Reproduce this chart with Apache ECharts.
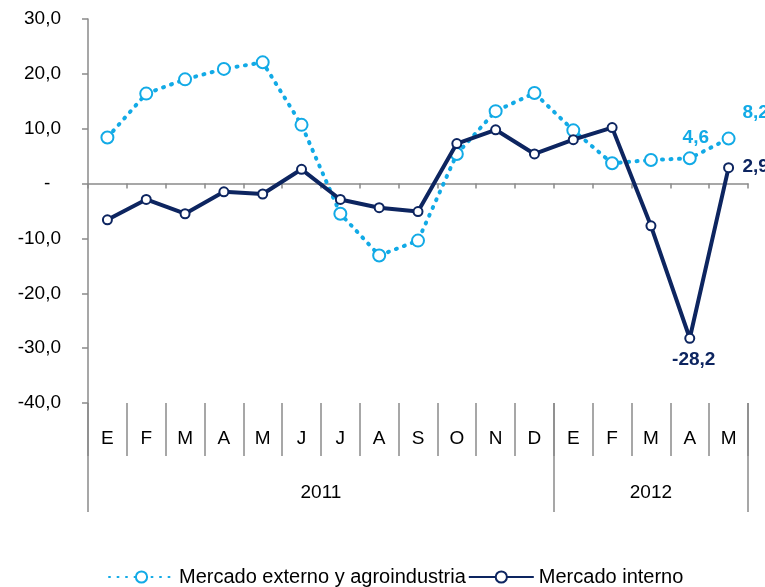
<!DOCTYPE html>
<html><head><meta charset="utf-8">
<script src="https://cdn.jsdelivr.net/npm/echarts@6/dist/echarts.min.js"></script>
<style>html,body{margin:0;padding:0;background:#fff}#c{width:765px;height:587px}</style>
</head><body><div id="c"></div>
<script>
// ---- data ----
const months = ['E','F','M','A','M','J','J','A','S','O','N','D','E','F','M','A','M'];
const years = ['2011','2012'];
const monthsPerYear = [12, 5];
const externo = [8.4, 16.4, 19.0, 20.9, 22.1, 10.7, -5.5, -13.1, -10.4, 5.4, 13.2, 16.5, 9.7, 3.7, 4.3, 4.6, 8.2];
const interno = [-6.6, -2.9, -5.5, -1.5, -1.9, 2.6, -2.9, -4.4, -5.1, 7.3, 9.8, 5.4, 8.0, 10.2, -7.7, -28.2, 2.9];
const seriesNames = ['Mercado externo y agroindustria', 'Mercado interno'];
const yMin = -40, yMax = 30, yStep = 10;
const externoLabeled = [15, 16];
const internoLabeled = [15, 16];

// ---- derived ----
const FONT = "'Liberation Sans', Arial, sans-serif";
const C_EXT = '#12AAE6';
const C_INT = '#0D2560';
const GRAY = '#8A8A8A';
const fmt = v => v.toFixed(1).replace('.', ',');

const yearBounds = [0];
monthsPerYear.forEach(n => yearBounds.push(yearBounds[yearBounds.length - 1] + n));
const yearCenters = years.map((y, i) => (yearBounds[i] + yearBounds[i + 1]) / 2);

const extLabelOffsets = { 15: [6, -21], 16: [27, -26] };
const intLabelOffsets = { 15: [4, 21], 16: [27, -1] };

function buildData(values, labeled, offsets, color) {
  return values.map((v, i) => {
    if (labeled.indexOf(i) < 0) return v;
    return {
      value: v,
      label: {
        show: true, position: 'inside', offset: offsets[i],
        formatter: () => fmt(v), color: color,
        fontFamily: FONT, fontWeight: 'bold', fontSize: 19
      }
    };
  });
}

const chart = echarts.init(document.getElementById('c'), null, { renderer: 'canvas' });
chart.setOption({
  animation: false,
  backgroundColor: '#ffffff',
  textStyle: { fontFamily: FONT },
  legend: {
    left: 103, top: 562,
    itemWidth: 65, itemHeight: 14, itemGap: 2,
    textStyle: { fontFamily: FONT, fontSize: 20, color: '#000' },
    data: seriesNames
  },
  grid: [
    { left: 88, right: 17, top: 19, height: 384 },
    { left: 88, right: 17, top: 403, height: 53 },
    { left: 88, right: 17, top: 403, height: 109 }
  ],
  xAxis: [
    {
      gridIndex: 0, type: 'category', data: months, boundaryGap: true,
      axisLine: { onZero: true, lineStyle: { color: GRAY, width: 1.5 } },
      axisTick: { show: true, interval: 0, length: 5, lineStyle: { color: GRAY, width: 1.5 } },
      axisLabel: { show: false }, splitLine: { show: false }
    },
    {
      gridIndex: 1, type: 'category', data: months, boundaryGap: true, position: 'top',
      axisLine: { show: false }, axisTick: { show: false },
      splitLine: { show: true, interval: 0, lineStyle: { color: GRAY, width: 1.5 } },
      axisLabel: { inside: true, interval: 0, margin: 36, verticalAlign: 'middle',
        fontFamily: FONT, fontSize: 19, color: '#000' }
    },
    {
      gridIndex: 2, type: 'value', min: yearBounds[0], max: yearBounds[yearBounds.length - 1],
      position: 'bottom',
      axisLine: { show: false },
      axisTick: { show: true, inside: true, length: 109, customValues: yearBounds,
        lineStyle: { color: GRAY, width: 1.5 } },
      splitLine: { show: false },
      axisLabel: { inside: true, margin: 19, verticalAlign: 'middle', customValues: yearCenters,
        formatter: v => years[yearCenters.indexOf(v)] || '',
        fontFamily: FONT, fontSize: 19, color: '#000' }
    }
  ],
  yAxis: [
    {
      gridIndex: 0, type: 'value', min: yMin, max: yMax, interval: yStep,
      axisLine: { show: true, lineStyle: { color: GRAY, width: 1.5 } },
      axisTick: { show: true, length: 6, lineStyle: { color: GRAY, width: 1.5 } },
      splitLine: { show: false },
      axisLabel: { margin: 27, fontFamily: FONT, fontSize: 19, color: '#000',
        formatter: v => v === 0 ? '-  ' : fmt(v) }
    },
    { gridIndex: 1, type: 'value', show: false },
    { gridIndex: 2, type: 'value', show: false }
  ],
  series: [
    {
      name: seriesNames[0], type: 'line', xAxisIndex: 0, yAxisIndex: 0,
      data: buildData(externo, externoLabeled, extLabelOffsets, C_EXT),
      color: C_EXT,
      symbol: 'circle', symbolSize: 12,
      itemStyle: { color: '#ffffff', borderColor: C_EXT, borderWidth: 2 },
      lineStyle: { color: C_EXT, width: 4, type: [1, 7.5], cap: 'round' },
      z: 2
    },
    {
      name: seriesNames[1], type: 'line', xAxisIndex: 0, yAxisIndex: 0,
      data: buildData(interno, internoLabeled, intLabelOffsets, C_INT),
      color: C_INT,
      symbol: 'circle', symbolSize: 9,
      itemStyle: { color: '#ffffff', borderColor: C_INT, borderWidth: 2 },
      lineStyle: { color: C_INT, width: 4 },
      z: 3
    }
  ]
});
</script>
</body></html>
